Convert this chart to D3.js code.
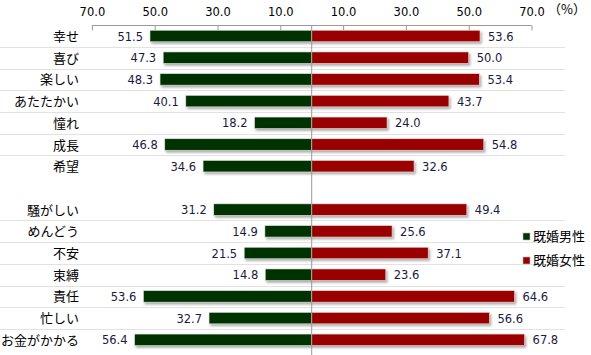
<!DOCTYPE html>
<html><head><meta charset="utf-8">
<script src="https://cdn.jsdelivr.net/npm/d3@7"></script>
<style>body{margin:0;background:#fff}svg{display:block}</style>
</head><body>
<script>
const categories = ["幸せ","喜び","楽しい","あたたかい","憧れ","成長","希望","","騒がしい","めんどう","不安","束縛","責任","忙しい","お金がかかる"];
const menValues = [51.5,47.3,48.3,40.1,18.2,46.8,34.6,null,31.2,14.9,21.5,14.8,53.6,32.7,56.4];
const womenValues = [53.6,50.0,53.4,43.7,24.0,54.8,32.6,null,49.4,25.6,37.1,23.6,64.6,56.6,67.8];
const tickValues = [10,30,50,70];
const seriesNames = ["既婚男性","既婚女性"];
const colors = ["#003300","#990000"];

const W=591,H=355, cx=311.7;
const svg=d3.select("body").append("svg").attr("width",W).attr("height",H)
  .style("font-family","'Noto Sans CJK JP','Noto Sans',sans-serif");
const defs=svg.append("defs");
const f=defs.append("filter").attr("id","sh").attr("x","-10%").attr("y","-30%").attr("width","130%").attr("height","190%");
f.append("feDropShadow").attr("dx",1.5).attr("dy",2).attr("stdDeviation",0.8).attr("flood-color","#777").attr("flood-opacity",0.6);

const keys=categories.map((c,i)=>"k"+i);
const y=d3.scaleBand().domain(keys).range([25.15,350.65]).paddingInner(0.47).paddingOuter(0.235);
const xL=d3.scaleLinear().domain([0,70]).range([cx,cx-219.8]);
const xR=d3.scaleLinear().domain([0,70]).range([cx,cx+219.8]);
const step=y.step();

// row separators
keys.forEach((k,i)=>{
  if(i>0 && categories[i] && categories[i-1]){
    const yy=Math.round(y(k)-(step-y.bandwidth())/2)+0.5;
    svg.append("line").attr("x1",0).attr("x2",565).attr("y1",yy).attr("y2",yy)
      .attr("stroke","#e2e2e2").attr("stroke-width",1);
  }
});

// top axes
const axL=d3.axisTop(xL).tickValues(tickValues).tickSize(-5).tickFormat(d3.format(".1f"));
const axR=d3.axisTop(xR).tickValues(tickValues).tickSize(-5).tickFormat(d3.format(".1f"));
[axL,axR].forEach(ax=>{
  const g=svg.append("g").attr("transform","translate(0,25.5)").call(ax);
  g.select(".domain").remove();
  g.selectAll(".tick line").attr("stroke","#999");
  g.selectAll(".tick text").attr("y",-10).attr("dy",0).attr("font-size",11.5).attr("fill","#000")
    .style("font-family","Verdana,'DejaVu Sans',sans-serif");
});
svg.append("line").attr("x1",xL(70)).attr("x2",xR(70)).attr("y1",25.5).attr("y2",25.5).attr("stroke","#999");
svg.append("text").attr("x",548).attr("y",14).attr("font-size",13).text("（%）");

// bars
keys.forEach((k,i)=>{
  if(menValues[i]==null) return;
  const by=y(k), bh=y.bandwidth();
  svg.append("rect").attr("x",xL(menValues[i])).attr("y",by).attr("width",cx-xL(menValues[i])).attr("height",bh)
    .attr("fill",colors[0]).attr("stroke","#dfe8df").attr("stroke-width",0.6).attr("filter","url(#sh)");
  svg.append("rect").attr("x",cx).attr("y",by).attr("width",xR(womenValues[i])-cx).attr("height",bh)
    .attr("fill",colors[1]).attr("stroke","#f0dcdc").attr("stroke-width",0.6).attr("filter","url(#sh)");
  const ty=by+bh/2+4.5;
  svg.append("text").attr("x",xL(menValues[i])-7).attr("y",ty).attr("text-anchor","end")
    .attr("font-size",11.5).attr("fill","#1a1a40").style("font-family","Verdana,'DejaVu Sans',sans-serif")
    .text(menValues[i].toFixed(1));
  svg.append("text").attr("x",xR(womenValues[i])+8).attr("y",ty).attr("text-anchor","start")
    .attr("font-size",11.5).attr("fill","#1a1a40").style("font-family","Verdana,'DejaVu Sans',sans-serif")
    .text(womenValues[i].toFixed(1));
  svg.append("text").attr("x",79).attr("y",by+bh/2+5).attr("text-anchor","end")
    .attr("font-size",13).attr("fill","#000").text(categories[i]);
});

// center line
svg.append("line").attr("x1",cx).attr("x2",cx).attr("y1",25.5).attr("y2",H).attr("stroke","#999").attr("stroke-width",1);

// legend
seriesNames.forEach((s,i)=>{
  const ly=236+i*24;
  svg.append("rect").attr("x",523).attr("y",ly-3).attr("width",7).attr("height",7)
    .attr("fill",colors[i]).attr("stroke","#bbb").attr("stroke-width",0.6);
  svg.append("text").attr("x",533).attr("y",ly+5).attr("font-size",13).attr("fill","#000").text(s);
});
</script>
</body></html>
